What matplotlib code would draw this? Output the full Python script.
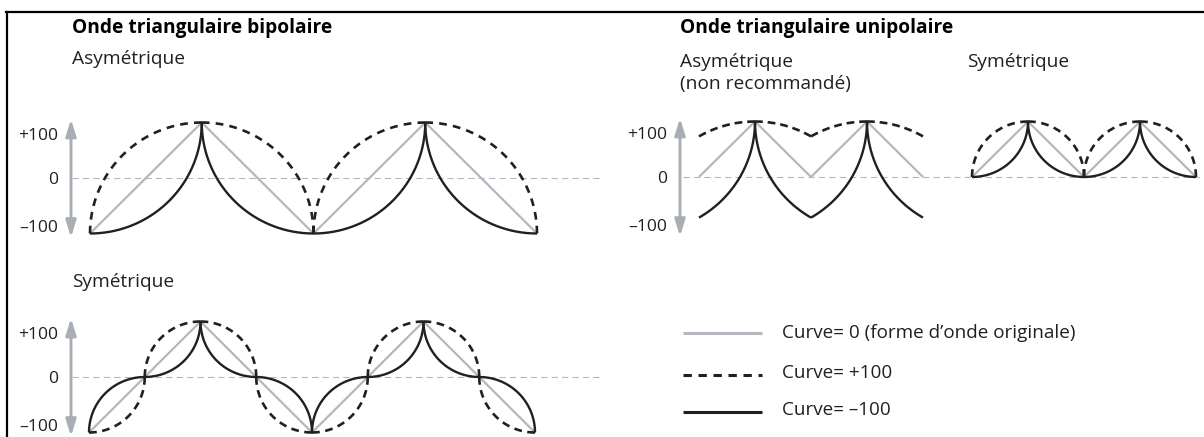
import numpy as np
import matplotlib.pyplot as plt
from matplotlib.lines import Line2D
from matplotlib.patches import FancyArrowPatch

plt.rcParams['font.family'] = ['Open Sans', 'DejaVu Sans']
plt.rcParams['lines.scale_dashes'] = False

W, H = 1204, 437
INK = '#231f20'
GRAY = '#b3b8be'
ARROW_GRAY = '#a9aeb5'

# Corner points of each triangle wave: position in half-cycles, level in %
bip_asym_pos = [0, 1, 2, 3, 4]
bip_asym_lvl = [-100, 100, -100, 100, -100]
bip_sym_pos = [0, 0.5, 1, 1.5, 2, 2.5, 3, 3.5, 4]
bip_sym_lvl = [-100, 0, 100, 0, -100, 0, 100, 0, -100]
uni_asym_pos = [0, 1, 2, 3, 4]
uni_asym_lvl = [0, 100, 0, 100, 0]
uni_sym_pos = [0, 1, 2, 3, 4]
uni_sym_lvl = [0, 100, 0, 100, 0]

curve_amounts = [0, 100, -100]
legend_labels = ['Curve= 0 (forme d\u2019onde originale)', 'Curve= +100', 'Curve= \u2013100']
scale_labels = ['+100', '0', '\u2013100']

fig = plt.figure(figsize=(W / 100, H / 100), dpi=100)


def px(x, y):
    return x / W, 1 - y / H


def bend(v, amount):
    k = amount / 100
    if k > 0:
        return (1 - k) * v + k * np.sqrt(np.clip(1 - (1 - v) ** 2, 0, None))
    if k < 0:
        return (1 + k) * v - k * (1 - np.sqrt(np.clip(1 - v ** 2, 0, None)))
    return v


def shape(u, amount, symmetric):
    if symmetric:
        return np.sign(u) * bend(np.abs(u), amount)
    return 2 * bend((u + 1) / 2, amount) - 1


def panel(box, x0, sx, y0, sy=0.555):
    left, top, right, bottom = box
    ax = fig.add_axes([left / W, 1 - bottom / H, (right - left) / W, (bottom - top) / H])
    ax.set_xlim((left - x0) / sx, (right - x0) / sx)
    ax.set_ylim((y0 - bottom) / sy, (y0 - top) / sy)
    ax.axis('off')
    return ax


def dashed_piece(ax, x, y, on=5.6, off=4.3, lw=1.9):
    # fit the dash period so every piece starts and ends on a dash
    pts = ax.transData.transform(np.column_stack([x, y]))
    length = np.hypot(*np.diff(pts, axis=0).T).sum() * 72 / fig.dpi
    n = max(1, round((length - on) / (on + off)))
    gap = max(0.5, (length - on) / n - on)
    ax.plot(x, y, color=INK, lw=lw, linestyle=(0, (on, gap)),
            solid_capstyle='butt', dash_capstyle='butt')


def draw_wave(ax, pos, lvl, symmetric):
    w = np.linspace(0, 1, 500)
    s = (1 - np.cos(np.pi * w)) / 2
    ax.plot(pos, lvl, color=GRAY, lw=1.6, solid_capstyle='butt')
    for amount in curve_amounts[1:]:
        for i in range(len(pos) - 1):
            u0, u1 = lvl[i] / 100, lvl[i + 1] / 100
            x = pos[i] + (pos[i + 1] - pos[i]) * s
            y = 100 * shape(u0 + (u1 - u0) * s, amount, symmetric)
            if amount > 0:
                dashed_piece(ax, x, y)
            else:
                ax.plot(x, y, color=INK, lw=1.7, solid_capstyle='butt')


def zero_line(ax, x_from, x_to):
    ax.plot([x_from, x_to], [0, 0], color=GRAY, lw=0.8,
            linestyle=(0, (4.5, 3)), clip_on=False, zorder=0)


def scale(ax, x_arrow, x_text):
    ax.add_patch(FancyArrowPatch((x_arrow, -107), (x_arrow, 106),
                                 arrowstyle='<|-|>,head_length=10,head_width=3.1',
                                 mutation_scale=1, lw=2.1, color=ARROW_GRAY,
                                 shrinkA=0, shrinkB=0, clip_on=False))
    for label, yv in zip(scale_labels, [75, -4, -90]):
        ax.text(x_text, yv, label, ha='right', va='center', fontsize=12.6, color=INK)


# Bipolar, asymmetric
ax_a = panel((20, 95, 610, 250), 90, 111.75, 178)
zero_line(ax_a, (72 - 90) / 111.75, (600 - 90) / 111.75)
scale(ax_a, (71 - 90) / 111.75, (58 - 90) / 111.75)
draw_wave(ax_a, bip_asym_pos, bip_asym_lvl, symmetric=False)

# Bipolar, symmetric
ax_b = panel((20, 300, 610, 437), 89, 111.5, 377)
zero_line(ax_b, (72 - 89) / 111.5, (600 - 89) / 111.5)
scale(ax_b, (71 - 89) / 111.5, (58 - 89) / 111.5)
draw_wave(ax_b, bip_sym_pos, bip_sym_lvl, symmetric=True)

# Unipolar, asymmetric
ax_c = panel((620, 95, 960, 250), 699, 56, 177)
zero_line(ax_c, (683 - 699) / 56, (1204 - 699) / 56)
scale(ax_c, (680 - 699) / 56, (667 - 699) / 56)
draw_wave(ax_c, uni_asym_pos, uni_asym_lvl, symmetric=False)

# Unipolar, symmetric
ax_d = panel((960, 95, 1204, 250), 972, 56, 177)
draw_wave(ax_d, uni_sym_pos, uni_sym_lvl, symmetric=True)

# Titles and sub-titles
fig.text(*px(72, 33), 'Onde triangulaire bipolaire', fontsize=13.8,
         fontweight='bold', va='baseline', color='black')
fig.text(*px(680, 33), 'Onde triangulaire unipolaire', fontsize=13.8,
         fontweight='bold', va='baseline', color='black')
fig.text(*px(72, 64), 'Asymétrique', fontsize=13.8, va='baseline', color=INK)
fig.text(*px(680, 67), 'Asymétrique', fontsize=13.8, va='baseline', color=INK)
fig.text(*px(680, 89), '(non recommandé)', fontsize=13.8, va='baseline', color=INK)
fig.text(*px(967, 67), 'Symétrique', fontsize=13.8, va='baseline', color=INK)
fig.text(*px(72, 287), 'Symétrique', fontsize=13.8, va='baseline', color=INK)

# Legend
legend_styles = [dict(color=GRAY, lw=2.2),
                 dict(color=INK, lw=2.2, linestyle=(0, (6, 4.8))),
                 dict(color=INK, lw=2.2)]
for label, style, ly, ty in zip(legend_labels, legend_styles, [333, 375, 412], [333, 373, 410]):
    (x0, y0), (x1, _) = px(683, ly), px(762, ly)
    fig.add_artist(Line2D([x0, x1], [y0, y0], transform=fig.transFigure,
                          solid_capstyle='butt', dash_capstyle='butt', **style))
    fig.text(*px(782, ty), label, fontsize=13.6, va='center', color=INK)

# Frame on the top and left edges
fig.add_artist(Line2D([6 / W, 1], [1 - 12 / H] * 2, transform=fig.transFigure, color='black', lw=1.6))
fig.add_artist(Line2D([7 / W] * 2, [0, 1 - 12 / H], transform=fig.transFigure, color='black', lw=1.6))

fig.savefig('out.png', dpi=100)
